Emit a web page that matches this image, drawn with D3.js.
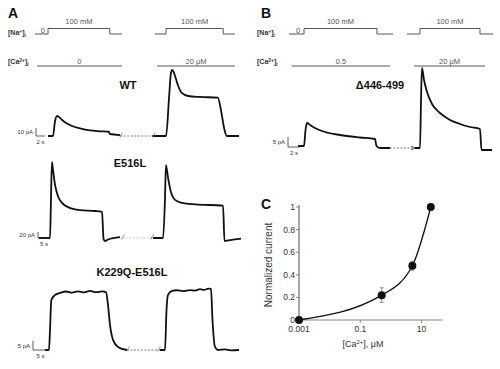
<!DOCTYPE html>
<html><head><meta charset="utf-8">
<script src="https://cdn.jsdelivr.net/npm/d3@7"></script>
<style>body{margin:0;background:#fff}svg{display:block}text{font-family:"Liberation Sans",Arial,sans-serif}</style>
</head><body>
<svg id="c" width="500" height="369"></svg>
<script>
// ---------- DATA ----------
// traces: [time (s), current (pA)]
const wt1 = [[2.67,0],[3.78,0],[4.2,17.5],[4.67,25],[5.1,23.8],[5.8,20],[6.7,16.3],[8.0,12.5],[9.8,9.4],[12.0,6.9],[14.2,5.9],[16.2,5.3],[16.4,2.5],[18.7,1.2]];
const wt2 = [[25.8,0],[28.9,0],[29.6,51],[30.0,79],[30.3,82.5],[30.9,75],[31.6,62.5],[32.4,53.8],[33.8,50],[36.4,48.8],[40.4,48],[41.1,32.5],[41.8,10],[42.4,0],[45.1,0]];
const e1 = [[0.4,0],[5,0],[5.4,127],[5.8,253],[6.25,227],[7.1,177],[8.3,140],[10,117],[12.5,103],[17.5,93],[23.75,90],[26.7,87],[27.3,-3],[27.9,-10],[29.2,-5],[34.2,3]];
const e2 = [[47.9,0],[52.1,0],[52.9,127],[53.3,243],[54.2,200],[55.4,153],[57.1,127],[60,117],[65.4,112],[77.1,108],[77.7,-10],[80,-7],[84.6,-2]];
const k1 = [[4,0],[5.33,0],[5.67,11.1],[6.1,27.8],[7.33,30.6],[9,31.7],[11,32.5],[13,31.9],[15,32.6],[17,32.0],[19,32.8],[21,32.1],[23,32.6],[24.33,32.2],[25,25],[25.67,13.9],[26.67,5.6],[28.33,1.7],[31.33,0]];
const k2 = [[42.33,0],[44,0],[44.5,22.2],[45,30.6],[46.33,32.8],[48,33.2],[50,32.7],[52.33,33.3],[54,33.0],[55.67,33.8],[57,33.4],[58.5,34.1],[59.33,33.9],[59.83,16.7],[60.67,1.7],[61.67,0],[64,0.3],[66,-0.2],[68.67,0]];
const d1 = [[1.67,0.5],[2.67,0.5],[2.92,8.5],[3.17,12],[3.67,11],[4.5,9.5],[6.17,7.5],[8.67,6],[12,4.75],[14.5,4],[14.75,0.5],[15.33,-0.5],[17,-0.5]];
const d2 = [[21.17,-0.5],[22,-0.5],[22.17,23.5],[22.33,39.5],[22.67,33.5],[23.17,27.5],[24,21.5],[25.33,17],[27,13.5],[28.67,11.5],[30.33,10],[32,9],[32.25,-1.5],[34,-1.5]];
// breaks between the two recordings [t start, t end, level]
const breaksA = {wt:[18.7,26.4,0], e:[35,47.9,0], k:[31.33,42.33,0]};
const breakB = [17,21.17,-0.5];
// protocols: Na (mM) steps [t0, t1, level] and Ca segments
const naA = [[-0.2,2.67,0],[2.67,16.4,100],[16.4,19.1,0],[26.4,28.9,0],[28.9,41.6,100],[41.6,44.2,0]];
const caA = [[0.2,19.1,"0"],[26.9,44.2,"20 μM"]];
const naB = [[0.17,2.67,0],[2.67,14.83,100],[14.83,17.5,0],[19.83,22,0],[22,32,100],[32,34.17,0]];
const caB = [[0.67,17,"0.5"],[21,32.83,"20 μM"]];
// panel C
const caConc = [0.001, 0.5, 5, 20];
const normCur = [0, 0.22, 0.48, 1];
const errBar = [0, 0.065, 0.04, 0.01];
const yTicks = [0,0.2,0.4,0.6,0.8,1];
const xTicks = [0.001,0.1,10];

// ---------- DRAW ----------
const svg = d3.select("#c");
const line = (xs, ys) => d3.line().x(d=>xs(d[0])).y(d=>ys(d[1])).curve(d3.curveMonotoneX);
const traceStyle = s => s.attr("fill","none").attr("stroke","#111").attr("stroke-width",1.8).attr("stroke-linejoin","round");

function txt(x,y,s,size,opts={}){
  return svg.append("text").attr("x",x).attr("y",y).text(s).attr("font-size",size)
    .attr("font-weight",opts.w||"normal").attr("fill",opts.f||"#222").attr("text-anchor",opts.a||"start");
}

function protocol(xs, na, ca, lx){
  const ny = d3.scaleLinear().domain([0,100]).range([34,28.5]);
  const g = svg.append("g").attr("stroke","#555").attr("fill","none").attr("stroke-width",1);
  const groups=[[na[0],na[1],na[2]],[na[3],na[4],na[5]]];
  groups.forEach(gr=>{
    const pts=[];
    gr.forEach(s=>{pts.push([s[0],s[2]]);pts.push([s[1],s[2]]);});
    g.append("path").attr("d",d3.line().x(d=>xs(d[0])).y(d=>ny(d[1]))(pts));
    txt((xs(gr[1][0])+xs(gr[1][1]))/2, 23.5, "100 mM", 7.5, {a:"middle",f:"#555"});
  });
  txt(xs(na[0][0])+ (xs(na[0][1])-xs(na[0][0]))*0.6, 32.5, "0", 7.5, {a:"middle",f:"#555"});
  ca.forEach(s=>{
    g.append("line").attr("x1",xs(s[0])).attr("x2",xs(s[1])).attr("y1",66).attr("y2",66);
    txt((xs(s[0])+xs(s[1]))/2, 63.5, s[2], 7.5, {a:"middle",f:"#555"});
  });
  const na_t = svg.append("text").attr("x",lx).attr("y",35).attr("font-size",7).attr("font-weight","bold").attr("fill","#333");
  na_t.append("tspan").text("[Na");
  na_t.append("tspan").text("+").attr("font-size",5).attr("dy",-2.5);
  na_t.append("tspan").text("]").attr("dy",2.5);
  na_t.append("tspan").text("i").attr("font-size",5).attr("dy",1.5);
  const ca_t = svg.append("text").attr("x",lx).attr("y",64).attr("font-size",7).attr("font-weight","bold").attr("fill","#333");
  ca_t.append("tspan").text("[Ca");
  ca_t.append("tspan").text("2+").attr("font-size",5).attr("dy",-2.5);
  ca_t.append("tspan").text("]").attr("dy",2.5);
  ca_t.append("tspan").text("i").attr("font-size",5).attr("dy",1.5);
}

function slash(x,y){
  svg.append("line").attr("x1",x-1.5).attr("y1",y+2.5).attr("x2",x+1.5).attr("y2",y-2.5).attr("stroke","#777").attr("stroke-width",0.8);
}

function panel(cfg){
  const xs = d3.scaleLinear().domain([0,1]).range([cfg.x0, cfg.x0+cfg.pxs]);
  const ys = d3.scaleLinear().domain([0,1]).range([cfg.y0, cfg.y0-cfg.pxa]);
  cfg.traces.forEach(tr=>traceStyle(svg.append("path").attr("d",line(xs,ys)(tr))));
  const b = cfg.brk;
  svg.append("line").attr("x1",xs(b[0])).attr("x2",xs(b[1])).attr("y1",ys(b[2])).attr("y2",ys(b[2]))
    .attr("stroke",cfg.dashCol||"#555").attr("stroke-width",0.8).attr("stroke-dasharray","2,1.5");
  if(cfg.slash){ slash(xs(b[0])+1, ys(b[2])-1); slash(xs(b[1])-1, ys(b[2])-1); }
  if(cfg.arrow){
    const ax=xs(b[1]), ay=ys(b[2]);
    svg.append("path").attr("d",`M${ax-4},${ay-2}L${ax},${ay}L${ax-4},${ay+2}`).attr("fill","none").attr("stroke","#333").attr("stroke-width",0.8);
  }
  const sb = svg.append("g").attr("stroke","#333").attr("stroke-width",0.8).attr("fill","none");
  sb.append("path").attr("d",`M${xs(0)},${ys(cfg.sbA)}V${ys(0)}H${xs(cfg.sbT)}`);
  txt(xs(0)-3, ys(cfg.sbA/2)+2, cfg.sbA+" pA", 6, {a:"end",f:"#333"});
  txt(xs(cfg.sbT/2), ys(0)+8, cfg.sbT+" s", 6, {a:"middle",f:"#333"});
  txt(cfg.lx, cfg.ly, cfg.label, 11, {w:"bold",a:"middle",f:"#111"});
}

txt(8,18,"A",14,{w:"bold",f:"#111"});
txt(261,18,"B",14,{w:"bold",f:"#111"});
txt(261,209,"C",14,{w:"bold",f:"#111"});

protocol(d3.scaleLinear().domain([0,1]).range([36,40.5]), naA, caA, 8);
protocol(d3.scaleLinear().domain([0,1]).range([288,294]), naB, caB, 257);

panel({x0:36,pxs:4.5,y0:136,pxa:0.8,traces:[wt1,wt2],brk:breaksA.wt,slash:true,sbA:10,sbT:2,label:"WT",lx:128,ly:89});
panel({x0:38,pxs:2.4,y0:238,pxa:0.3,traces:[e1,e2],brk:breaksA.e,slash:true,dashCol:"#bbb",sbA:20,sbT:5,label:"E516L",lx:130,ly:167});
panel({x0:33,pxs:3,y0:350,pxa:1.8,traces:[k1,k2],brk:breaksA.k,slash:true,sbA:5,sbT:5,label:"K229Q-E516L",lx:132,ly:276});
panel({x0:288,pxs:6,y0:147,pxa:2,traces:[d1,d2],brk:breakB,arrow:true,sbA:5,sbT:2,label:"Δ446-499",lx:380,ly:89});

// ---------- Panel C ----------
const cx = d3.scaleLog().domain([0.001,50]).range([299,443]);
const cy = d3.scaleLinear().domain([0,1]).range([320,207]);
const ax = svg.append("g");
ax.append("line").attr("x1",299).attr("x2",443).attr("y1",cy(0)).attr("y2",cy(0)).attr("stroke","#888").attr("stroke-width",1.2);
ax.append("line").attr("x1",299).attr("x2",299).attr("y1",cy(0)).attr("y2",cy(1)-2).attr("stroke","#888").attr("stroke-width",1.5);
yTicks.forEach(t=>{
  ax.append("line").attr("x1",296).attr("x2",299).attr("y1",cy(t)).attr("y2",cy(t)).attr("stroke","#888");
  txt(295, cy(t)+3, String(t), 8.5, {a:"end",f:"#333"});
});
xTicks.forEach(t=>{
  ax.append("line").attr("x1",cx(t)).attr("x2",cx(t)).attr("y1",cy(0)).attr("y2",cy(0)+3).attr("stroke","#888");
  txt(cx(t), cy(0)+12, String(t), 8.5, {a:"middle",f:"#333"});
});
const xl = svg.append("text").attr("x",363).attr("y",347).attr("font-size",9).attr("fill","#333").attr("text-anchor","middle");
xl.append("tspan").text("[Ca");
xl.append("tspan").text("2+").attr("font-size",6).attr("dy",-3);
xl.append("tspan").text("], μM").attr("dy",3);
svg.append("text").attr("transform","translate(272,265) rotate(-90)").attr("text-anchor","middle")
  .attr("font-size",10).attr("fill","#333").text("Normalized current");
const pts = caConc.map((c,i)=>[c,normCur[i],errBar[i]]);
svg.append("path").attr("d",d3.line().x(d=>cx(d[0])).y(d=>cy(d[1])).curve(d3.curveMonotoneX)(pts))
  .attr("fill","none").attr("stroke","#111").attr("stroke-width",1.3);
pts.forEach(p=>{
  if(p[2]>0.02){
    svg.append("path").attr("d",`M${cx(p[0])-2},${cy(p[1]+p[2])}H${cx(p[0])+2}M${cx(p[0])},${cy(p[1]+p[2])}V${cy(p[1]-p[2])}M${cx(p[0])-2},${cy(p[1]-p[2])}H${cx(p[0])+2}`)
      .attr("stroke","#777").attr("stroke-width",0.8).attr("fill","none");
  }
  svg.append("circle").attr("cx",cx(p[0])).attr("cy",cy(p[1])).attr("r",4).attr("fill","#111");
});
</script>
</body></html>
